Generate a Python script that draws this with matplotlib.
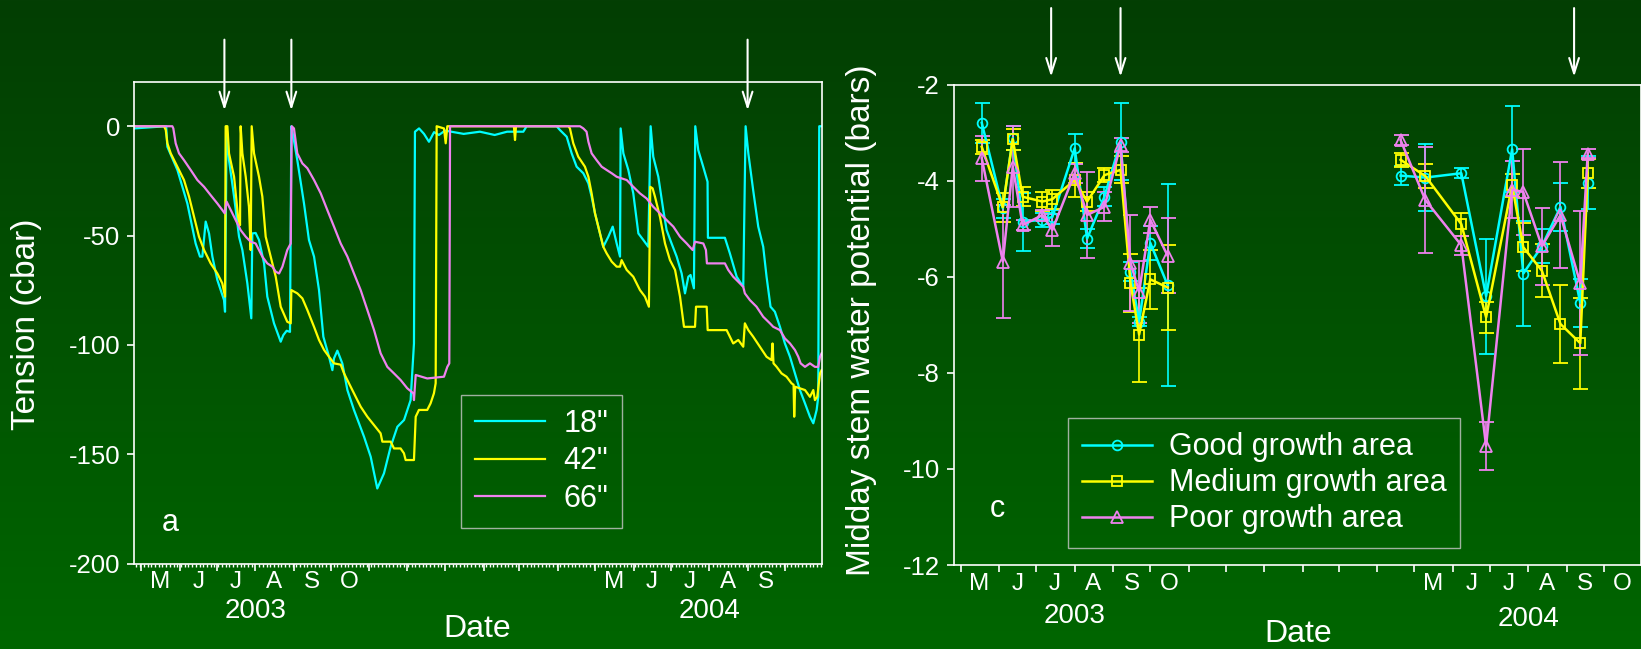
import numpy as np
import matplotlib
matplotlib.use("Agg")
import matplotlib.pyplot as plt
import matplotlib.dates as mdates
import matplotlib.transforms as mtransforms
from matplotlib.colors import LinearSegmentedColormap
from matplotlib.ticker import NullFormatter
from matplotlib.lines import Line2D

plt.rcParams['font.family'] = ['Liberation Sans', 'DejaVu Sans']
plt.rcParams['axes.unicode_minus'] = False

# ---- data ----
# panel a: soil tension (cbar), x = days since 2003-05-01
tension_18 = [(-5.9, -1.0), (20, 0), (21.0, -9.4), (29.1, -20.0), (37.1, -35.3), (43.8, -53.6),
              (47.3, -59.6), (49.2, -59.6), (51.9, -43.6), (54.6, -49.0), (57.3, -59.6), (61.3, -70.3),
              (66.7, -79.5), (67.5, -84.8), (68.8, 0), (70.7, -15.5), (74.8, -32.2), (78.8, -50.5),
              (81.5, -56.6), (85.5, -71.8), (88.7, -87.8), (89.5, -49.0), (92.2, -48.8), (94.9, -52.0),
              (99.0, -62.7), (101.6, -77.9), (107.0, -90.1), (112.4, -98.5), (114.5, -95.5),
              (117.2, -93.5), (119.9, -94.0), (121.0, 0), (122.6, -4.8), (125.8, -15.5), (131.2, -35.3),
              (135.2, -52.0), (139.3, -59.6), (143.3, -74.9), (146.8, -96.2), (151.4, -105.4),
              (154.1, -111.5), (155.4, -106.1), (158.1, -102.6), (162.1, -108.4), (166.2, -120.6),
              (171.5, -129.7), (179.6, -141.9), (185.0, -151.1), (190.3, -165.6), (195.7, -158.7),
              (201.1, -146.5), (206.5, -137.4), (211.9, -134.3), (217.2, -125.2), (219.9, -99.3),
              (220.7, -2.5), (224, -1.0), (228.0, -3.5), (232.0, -7.1), (236.1, -2.7), (240, -4.0),
              (245, -2.0), (252.2, -2.7), (260, -3.5), (273.1, -2.5), (285, -4.0), (295, -2.5),
              (308.1, -2.5), (310.8, 0), (335.0, 0), (337.6, -1.7), (343.1, -4.8), (347.1, -12.4),
              (351.1, -18.5), (356.5, -21.5), (360.6, -26.1), (363.2, -32.2), (365.9, -39.8),
              (368.6, -45.9), (372.6, -55.1), (376.7, -50.5), (380.2, -45.9), (383.4, -53.6),
              (386.1, -59.6), (386.6, -1.0), (388.8, -12.4), (392.8, -20.0), (396.8, -30.7),
              (400.9, -49.0), (404.9, -52.0), (408.9, -55.1), (410.8, 0), (412.9, -13.9), (417.0, -23.1),
              (421.0, -38.3), (423.7, -47.5), (427.7, -53.6), (431.8, -59.6), (435.8, -67.3),
              (438.5, -76.4), (441.2, -68.8), (443.0, -68.0), (445.7, -74.1), (446.8, 0), (449.2, -10.9),
              (453.2, -18.5), (456.7, -25.4), (457.0, -51.0), (470.7, -51.0), (474.7, -58.1),
              (480.2, -68.8), (485.5, -73.4), (487.4, 0), (489.6, -12.4), (493.5, -29.2), (497.6, -45.9),
              (501.6, -55.1), (504.3, -68.8), (507.5, -82.5), (511.0, -84.8), (515.1, -91.7),
              (519.1, -99.3), (523.2, -105.4), (527.2, -113.0), (531.2, -120.6), (535.3, -126.7),
              (539.3, -132.8), (542.0, -135.8), (544.7, -129.7), (546.0, -123.7), (546.8, 0), (549, 0)]

tension_42 = [(-5.9, 0), (18.3, 0), (19.7, -1.7), (21.0, -7.8), (23.7, -12.4), (29.1, -18.5), (34.4, -24.6),
              (38.5, -32.2), (42.5, -41.4), (46.5, -50.5), (50.6, -56.6), (55.9, -62.7), (61.3, -67.3),
              (65.3, -71.8), (67.5, -77.9), (68.0, 0), (69.4, 0), (70.7, -12.4), (74.8, -23.1), (78.0, -41.4),
              (79.6, -45.2), (80.1, 0), (81.5, -12.4), (84.2, -23.1), (86.8, -36.8), (88.2, -56.6), (89.0, 0),
              (90.9, -12.4), (94.9, -23.1), (97.6, -32.2), (100.3, -50.5), (104.3, -59.6), (108.4, -68.8),
              (112.4, -82.5), (117.7, -89.4), (120.5, -90.1), (121.0, -74.9), (125.8, -76.4), (129.9, -78.7),
              (133.9, -84.0), (139.3, -91.7), (143.3, -97.7), (147.4, -102.3), (151.4, -105.4),
              (155.4, -108.4), (160.8, -109.0), (163.5, -113.0), (167.5, -117.5), (171.5, -122.1),
              (176.9, -128.2), (182.3, -132.8), (187.7, -136.6), (193.0, -140.4), (194.4, -144.2),
              (201.1, -144.2), (203.8, -147.3), (209.1, -147.3), (211.8, -149.5), (213.2, -152.6),
              (219.9, -152.6), (221.3, -132.8), (223.9, -129.7), (230.6, -129.7), (233.3, -126.7),
              (236.0, -122.1), (237.4, -117.5), (238.2, 0), (244.1, -1.0), (245.5, -7.8), (246.8, 0),
              (300.5, 0), (301.4, -6.3), (302.2, 0), (344.4, 0), (345.7, -1.0), (348.4, -7.8), (352.4, -13.9),
              (357.8, -18.5), (360.6, -23.1), (363.2, -30.7), (365.9, -39.8), (368.6, -45.9), (372.6, -55.1),
              (375.3, -58.1), (379.4, -61.9), (383.4, -64.2), (386.1, -64.2), (387.4, -61.2), (391.5, -65.7),
              (396.8, -68.8), (402.2, -74.9), (406.2, -77.9), (409.4, -82.5), (410.5, -27.7), (412.4, -28.4),
              (414.3, -32.2), (418.3, -41.4), (422.4, -53.6), (426.4, -61.2), (430.5, -65.7), (434.5, -77.9),
              (437.7, -91.7), (446.6, -91.7), (447.4, -82.5), (456.0, -82.5), (456.8, -93.2), (472.1, -93.2),
              (474.7, -96.2), (477.4, -99.3), (481.5, -97.7), (485.5, -100.8), (486.8, -90.1), (489.6, -93.2),
              (493.5, -96.2), (498.9, -100.8), (504.3, -105.4), (508.3, -106.9), (509.1, -99.3),
              (509.9, -108.4), (512.3, -109.9), (516.4, -113.0), (520.4, -114.5), (524.4, -117.5),
              (526.1, -118.2), (526.6, -132.8), (527.4, -119.1), (531.2, -119.8), (535.3, -120.6),
              (539.3, -123.7), (542.0, -120.6), (543.3, -125.2), (545.2, -123.7), (547.4, -113.0),
              (548.7, -111.5)]

tension_66 = [(-5.9, 0), (25.0, 0), (25.8, -1.0), (27.7, -7.8), (30.4, -12.4), (34.4, -15.5), (39.8, -20.0),
              (45.2, -24.6), (50.6, -27.7), (55.9, -31.5), (61.3, -35.3), (65.3, -38.3), (67.2, -39.8),
              (68.8, -34.5), (72.1, -38.3), (76.1, -42.9), (80.1, -47.5), (84.2, -50.5), (88.2, -52.8),
              (92.2, -53.6), (97.6, -59.6), (101.6, -62.7), (105.7, -64.2), (108.4, -66.5), (111.1, -67.3),
              (113.8, -64.2), (117.7, -56.6), (120.5, -53.6), (121.3, 0), (123.1, -1.0), (125.8, -12.4),
              (129.9, -17.0), (133.9, -19.2), (139.3, -24.6), (144.7, -30.7), (150.0, -38.3), (155.4, -45.9),
              (160.8, -53.6), (166.2, -59.6), (171.5, -67.3), (176.9, -74.9), (182.3, -84.0), (187.7, -93.2),
              (193.0, -103.8), (198.4, -110.0), (203.8, -113.0), (209.1, -116.0), (214.5, -119.8),
              (219.4, -122.1), (219.9, -125.2), (221.3, -113.7), (230.6, -115.3), (244.1, -114.5),
              (246.8, -110.0), (248.4, -108.4), (249.0, 0), (353.8, 0), (356.5, -1.0), (359.1, -2.5),
              (360.6, -7.1), (363.2, -12.4), (367.2, -15.5), (371.3, -18.5), (375.3, -20.0), (379.4, -21.5),
              (383.4, -23.1), (391.5, -24.6), (396.8, -27.7), (402.2, -30.7), (407.5, -33.0), (412.9, -36.8),
              (418.3, -39.8), (423.7, -42.9), (429.1, -45.9), (434.5, -50.5), (439.9, -53.6), (444.7, -56.6),
              (446.6, -52.8), (453.3, -53.6), (455.4, -56.6), (456.2, -62.7), (470.7, -62.7), (473.4, -65.7),
              (477.4, -68.8), (481.5, -71.1), (485.5, -73.4), (486.8, -76.4), (490.9, -79.5), (496.2, -82.5),
              (501.6, -87.1), (507.0, -90.1), (509.7, -91.7), (515.1, -93.2), (519.1, -97.0), (523.2, -99.3),
              (527.2, -102.3), (529.9, -105.4), (531.8, -108.4), (535.3, -110.0), (539.3, -108.4),
              (543.3, -110.0), (546.0, -110.0), (547.4, -105.4), (548.7, -103.8)]

# panel c: midday stem water potential (bars), mean and error
dates_2003 = ['2003-05-18', '2003-06-04', '2003-06-12', '2003-06-20', '2003-07-06', '2003-07-14', '2003-08-01',
              '2003-08-11', '2003-08-25', '2003-09-07', '2003-09-15', '2003-09-22', '2003-10-01', '2003-10-15']
good_2003 = [-2.79, -4.57, -3.11, -4.85, -4.81, -4.75, -3.32, -5.20, -4.33, -3.18, -5.89, -6.93, -5.29, -6.17]
good_2003_err = [0.41, 0.2, 0.25, 0.6, 0.15, 0.15, 0.3, 0.2, 0.2, 0.8, 0.2, 0.1, 0.35, 2.1]
medium_2003 = [-3.29, -4.55, -3.13, -4.33, -4.43, -4.38, -3.98, -4.43, -3.88, -3.77, -6.12, -7.20, -6.05, -6.22]
medium_2003_err = [0.15, 0.3, 0.22, 0.2, 0.2, 0.2, 0.35, 0.2, 0.15, 0.28, 0.6, 0.98, 0.62, 0.88]
poor_2003 = [-3.53, -5.68, -3.70, -4.92, -4.71, -5.02, -3.84, -4.71, -4.54, -3.25, -5.70, -6.31, -4.81, -5.56]
poor_2003_err = [0.47, 1.17, 0.85, 0.1, 0.1, 0.33, 0.2, 0.9, 0.3, 0.15, 1.0, 0.65, 0.27, 0.78]

dates_2004 = ['2004-04-20', '2004-05-10', '2004-06-08', '2004-06-28', '2004-07-19', '2004-07-28', '2004-08-12',
              '2004-08-27', '2004-09-12', '2004-09-18']
good_2004 = [-3.89, -3.93, -3.84, -6.40, -3.34, -5.93, -5.36, -4.54, -6.54, -4.04]
good_2004_err = [0.2, 0.7, 0.1, 1.2, 0.9, 1.1, 0.35, 0.5, 0.5, 0.55]
medium_2004 = [-3.56, -3.90, -4.90, -6.84, -4.09, -5.38, -5.87, -6.98, -7.38, -3.84]
medium_2004_err = [0.15, 0.25, 0.24, 0.32, 0.24, 0.5, 0.55, 0.82, 0.95, 0.3]
poor_2004 = [-3.15, -4.40, -5.34, -9.52, -4.18, -4.23, -5.36, -4.71, -6.13, -3.43]
poor_2004_err = [0.1, 1.1, 0.2, 0.5, 0.6, 0.9, 0.8, 1.1, 1.5, 0.1]

arrows_a = ['2003-07-07', '2003-08-30', '2004-09-01']
arrows_c = ['2003-07-13', '2003-09-07', '2004-09-07']

months_2003 = ['M', 'J', 'J', 'A', 'S', 'O']
months_2004_a = ['M', 'J', 'J', 'A', 'S']
months_2004_c = ['M', 'J', 'J', 'A', 'S', 'O']

CYAN, YELLOW, VIOLET = '#00FFFF', '#FFFF00', '#EE82EE'
base = np.datetime64('2003-05-01')


def to_dates(days):
    return base + (np.asarray(days) * 86400).astype('timedelta64[s]')


def dnum(s):
    return mdates.date2num(np.datetime64(s))


fig = plt.figure(figsize=(16.41, 6.49), dpi=100)

# green gradient background
bg = fig.add_axes([0, 0, 1, 1], zorder=-5)
grad = np.linspace(0, 1, 256).reshape(-1, 1)
cmap = LinearSegmentedColormap.from_list('g', ['#033E03', '#006600'])
bg.imshow(grad, aspect='auto', cmap=cmap, extent=[0, 1, 0, 1], origin='upper')
bg.axis('off')

ax1 = fig.add_axes([0.0819, 0.1314, 0.419, 0.7415])
ax2 = fig.add_axes([0.5812, 0.1294, 0.4188, 0.7398])

for s, c, lab in [(tension_18, CYAN, '18"'), (tension_42, YELLOW, '42"'), (tension_66, VIOLET, '66"')]:
    d, v = zip(*s)
    ax1.plot(to_dates(d), v, color=c, lw=1.6, label=lab)

series = [
    (good_2003, good_2003_err, good_2004, good_2004_err, CYAN, 'o', 7, 'Good growth area'),
    (medium_2003, medium_2003_err, medium_2004, medium_2004_err, YELLOW, 's', 7.5, 'Medium growth area'),
    (poor_2003, poor_2003_err, poor_2004, poor_2004_err, VIOLET, '^', 8.5, 'Poor growth area'),
]
d03 = np.array(dates_2003, dtype='datetime64[D]')
d04 = np.array(dates_2004, dtype='datetime64[D]')
handles = []
for v3, e3, v4, e4, c, m, ms, lab in series:
    for dd, vv, ee in [(d03, v3, e3), (d04, v4, e4)]:
        ax2.errorbar(dd, vv, yerr=ee, color=c, lw=1.8, marker=m, ms=ms, mfc='none', mec=c, mew=1.3,
                     ecolor=c, elinewidth=1.2, capsize=5.4, capthick=1.2)
    handles.append(Line2D([], [], color=c, lw=1.8, marker=m, ms=ms, mfc='none', mec=c, mew=1.3, label=lab))

xlim = to_dates([-5.6, 549])
for ax in (ax1, ax2):
    ax.set_facecolor('none')
    ax.set_xlim(xlim)
    for sp in ax.spines.values():
        sp.set_color('white')
        sp.set_linewidth(1.2)
    ax.xaxis.set_major_locator(mdates.MonthLocator())
    ax.xaxis.set_major_formatter(NullFormatter())
    ax.tick_params(axis='both', which='major', colors='white', direction='out', length=5, width=1.2,
                   labelsize=18.5, pad=5)

ax1.xaxis.set_minor_locator(mdates.DayLocator(interval=3))
ax1.xaxis.set_minor_formatter(NullFormatter())
ax1.tick_params(axis='x', which='minor', colors='white', length=2, width=1)

ax1.set_ylim(-200, 20)
ax1.set_yticks([-200, -150, -100, -50, 0])
ax2.set_ylim(-12, -2)
ax2.set_yticks([-12, -10, -8, -6, -4, -2])


def month_labels(ax, year, letters, ym, yy):
    tr = mtransforms.blended_transform_factory(ax.transData, ax.transAxes)
    for i, L in enumerate(letters):
        ax.text(dnum('%d-%02d-16' % (year, 5 + i)), ym, L, transform=tr, ha='center', va='center',
                color='white', fontsize=17.5, clip_on=False)
    ax.text(dnum('%d-08-01' % year), yy, str(year), transform=tr, ha='center', va='center',
            color='white', fontsize=20, clip_on=False)


month_labels(ax1, 2003, months_2003, -0.038, -0.098)
month_labels(ax1, 2004, months_2004_a, -0.038, -0.098)
month_labels(ax2, 2003, months_2003, -0.04, -0.106)
month_labels(ax2, 2004, months_2004_c, -0.04, -0.112)

fig.text(0.291, 0.031, 'Date', color='white', fontsize=23, ha='center', va='center')
fig.text(0.791, 0.023, 'Date', color='white', fontsize=23, ha='center', va='center')
fig.text(0.016, 0.50, 'Tension (cbar)', color='white', fontsize=24, rotation=90, ha='center', va='center')
fig.text(0.525, 0.507, 'Midday stem water potential (bars)', color='white', fontsize=24, rotation=90,
         ha='center', va='center')

ax1.text(0.052, 0.085, 'a', transform=ax1.transAxes, color='white', fontsize=22, ha='center', va='center')
ax2.text(0.064, 0.117, 'c', transform=ax2.transAxes, color='white', fontsize=22, ha='center', va='center')

arrow_style = dict(arrowstyle='->,head_length=1.1,head_width=0.35', color='white', lw=1.5,
                   shrinkA=0, shrinkB=0)
for s in arrows_a:
    ax1.annotate('', xy=(dnum(s), 0.942), xycoords=('data', 'axes fraction'), xytext=(dnum(s), 1.089),
                 textcoords=('data', 'axes fraction'), arrowprops=arrow_style, annotation_clip=False)
for s in arrows_c:
    ax2.annotate('', xy=(dnum(s), 1.017), xycoords=('data', 'axes fraction'), xytext=(dnum(s), 1.16),
                 textcoords=('data', 'axes fraction'), arrowprops=arrow_style, annotation_clip=False)

leg1 = ax1.legend(loc='lower left', bbox_to_anchor=(0.475, 0.075), fontsize=22, frameon=True,
                  edgecolor='#C8C8C8', facecolor='none', fancybox=False, handlelength=2.3,
                  handletextpad=0.6, labelspacing=0.25, borderpad=0.45, borderaxespad=0)
leg2 = ax2.legend(handles=handles, loc='lower left', bbox_to_anchor=(0.166, 0.035), fontsize=22,
                  frameon=True, edgecolor='#C8C8C8', facecolor='none', fancybox=False, handlelength=2.3,
                  handletextpad=0.55, labelspacing=0.2, borderpad=0.45, borderaxespad=0)
for leg in (leg1, leg2):
    leg.get_frame().set_linewidth(1.0)
    for t in leg.get_texts():
        t.set_color('white')

fig.savefig('out.png', dpi=100)
